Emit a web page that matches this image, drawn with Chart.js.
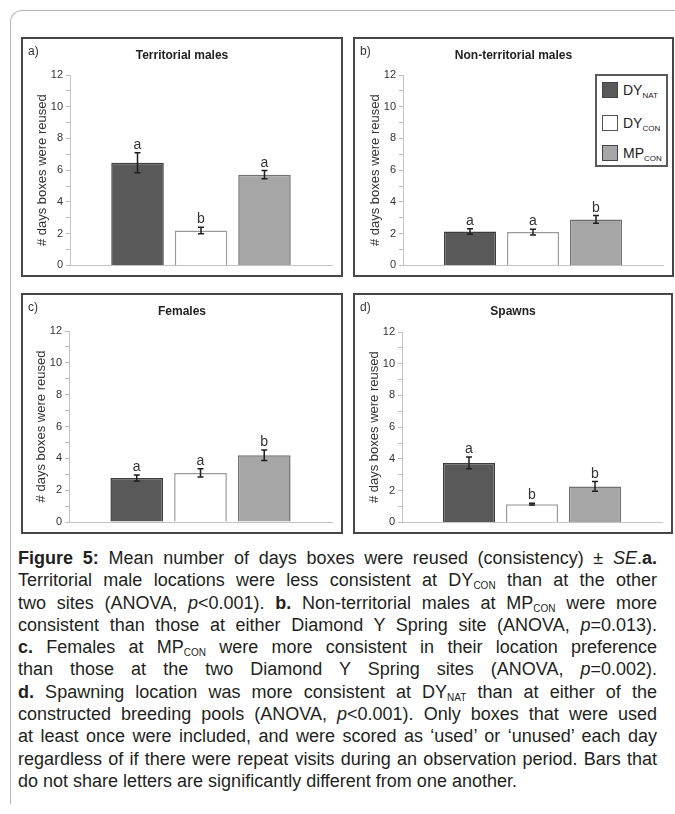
<!DOCTYPE html>
<html>
<head>
<meta charset="utf-8">
<script src="https://cdn.jsdelivr.net/npm/chart.js@4.4.1/dist/chart.umd.min.js"></script>
<style>
  html, body { margin: 0; padding: 0; background: #fff; }
  body { width: 675px; height: 814px; position: relative; overflow: hidden; font-family: "Liberation Sans", Arial, sans-serif; }
  #frame { position: absolute; left: 10px; top: 10px; width: 700px; height: 793px; border-top: 1px solid #b5b5b5; border-left: 1px solid #b5b5b5; border-top-left-radius: 12px; }
  .panel { position: absolute; border: 2px solid #474747; box-sizing: border-box; background: #fff; }
  .panel .inner { position: absolute; left: 0; top: 0; right: 0; bottom: 0; }
  #legend { position: absolute; left: 595px; top: 74px; width: 73px; height: 93px; box-sizing: border-box; border: 2px solid #5a5a5a; background: #fff; }
  .lg { position: absolute; left: 5px; height: 17px; font-size: 14px; color: #222; line-height: 17px; white-space: nowrap; }
  .lg .sw { display: inline-block; width: 16px; height: 16px; box-sizing: border-box; border: 1.5px solid #444; vertical-align: top; margin-right: 5px; }
  .lg sub { font-size: 8px; vertical-align: -3px; line-height: 0; }
  #caption { position: absolute; left: 18px; top: 547px; width: 639px; font-family: "Liberation Sans", Arial, sans-serif; font-size: 18px; color: #231f20; }
  #caption .ln { width: 639px; height: 22.3px; line-height: 22.3px; white-space: nowrap; text-align: justify; text-align-last: justify; }
  #caption .ln.last { text-align-last: left; }
  #caption sub { font-size: 10px; vertical-align: -3px; line-height: 0; }
</style>
</head>
<body>
<div id="frame"></div>

<div class="panel" style="left:21px; top:37px; width:322px; height:240px;"><div class="inner"><canvas id="cA"></canvas></div></div>
<div class="panel" style="left:353px; top:37px; width:321px; height:240px;"><div class="inner"><canvas id="cB"></canvas></div></div>
<div class="panel" style="left:21px; top:293px; width:322px; height:241px;"><div class="inner"><canvas id="cC"></canvas></div></div>
<div class="panel" style="left:353px; top:293px; width:320px; height:241px;"><div class="inner"><canvas id="cD"></canvas></div></div>

<div id="legend"></div>

<div id="caption">
  <div class="ln"><b>Figure 5:</b> Mean number of days boxes were reused (consistency) ± <i>SE</i>.<b>a.</b></div>
  <div class="ln">Territorial male locations were less consistent at DY<sub>CON</sub> than at the other</div>
  <div class="ln">two sites (ANOVA, <i>p</i>&lt;0.001). <b>b.</b> Non-territorial males at MP<sub>CON</sub> were more</div>
  <div class="ln">consistent than those at either Diamond Y Spring site (ANOVA, <i>p</i>=0.013).</div>
  <div class="ln"><b>c.</b> Females at MP<sub>CON</sub> were more consistent in their location preference</div>
  <div class="ln">than those at the two Diamond Y Spring sites (ANOVA, <i>p</i>=0.002).</div>
  <div class="ln"><b>d.</b> Spawning location was more consistent at DY<sub>NAT</sub> than at either of the</div>
  <div class="ln">constructed breeding pools (ANOVA, <i>p</i>&lt;0.001). Only boxes that were used</div>
  <div class="ln">at least once were included, and were scored as ‘used’ or ‘unused’ each day</div>
  <div class="ln">regardless of if there were repeat visits during an observation period. Bars that</div>
  <div class="ln last">do not share letters are significantly different from one another.</div>
</div>

<script>
// ---- data ----
const groups = ['DY_NAT', 'DY_CON', 'MP_CON'];
const groupBase = ['DY', 'DY', 'MP'];
const groupSub = ['NAT', 'CON', 'CON'];
const categories = [''];
const yTickLabels = ['0', '2', '4', '6', '8', '10', '12'];
const yAxisTitle = '# days boxes were reused';

const panelLabels = ['a)', 'b)', 'c)', 'd)'];
const panelTitles = ['Territorial males', 'Non-territorial males', 'Females', 'Spawns'];

const territorialMean = [6.47, 2.20, 5.72];
const territorialSE = [0.63, 0.20, 0.26];
const territorialLetters = ['a', 'b', 'a'];

const nonTerritorialMean = [2.14, 2.10, 2.90];
const nonTerritorialSE = [0.17, 0.18, 0.24];
const nonTerritorialLetters = ['a', 'a', 'b'];

const femalesMean = [2.77, 3.08, 4.20];
const femalesSE = [0.19, 0.26, 0.33];
const femalesLetters = ['a', 'a', 'b'];

const spawnsMean = [3.75, 1.15, 2.27];
const spawnsSE = [0.37, 0.05, 0.30];
const spawnsLetters = ['a', 'b', 'b'];

// ---- styles ----
const fills = ['#595959', '#ffffff', '#a6a6a6'];
const borders = ['#3c3c3c', '#9a9a9a', '#707070'];

// ---- legend (HTML, with subscripts) ----
const legendTops = [6, 39, 69];
const legendEl = document.getElementById('legend');
groups.forEach((g, i) => {
  const d = document.createElement('div');
  d.className = 'lg';
  d.style.top = legendTops[i] + 'px';
  d.innerHTML = '<span class="sw" style="background:' + fills[i] + ';border-color:' + (i === 1 ? '#555' : '#444') + '"></span>' + groupBase[i] + '<sub>' + groupSub[i] + '</sub>';
  legendEl.appendChild(d);
});

const panelPlugin = {
  id: 'panelPlugin',
  afterDatasetsDraw(chart) {
    const o = chart.options.plugins.panelPlugin;
    const ctx = chart.ctx;
    const y = chart.scales.y;
    ctx.save();
    chart.data.datasets.forEach((ds, i) => {
      const el = chart.getDatasetMeta(i).data[0];
      const m = ds.data[0];
      const se = ds.se;
      const yTop = y.getPixelForValue(m + se);
      const yBot = y.getPixelForValue(m - se);
      ctx.strokeStyle = '#1e1e1e';
      ctx.lineWidth = 1.5;
      ctx.beginPath();
      ctx.moveTo(el.x, yTop); ctx.lineTo(el.x, yBot);
      ctx.moveTo(el.x - 3, yTop); ctx.lineTo(el.x + 3, yTop);
      ctx.moveTo(el.x - 3, yBot); ctx.lineTo(el.x + 3, yBot);
      ctx.stroke();
      ctx.fillStyle = '#333';
      ctx.font = '14px "Liberation Sans", Arial, sans-serif';
      ctx.textAlign = 'center';
      ctx.textBaseline = 'alphabetic';
      ctx.fillText(ds.letter, el.x, yTop - 4);
    });
    ctx.fillStyle = '#333';
    ctx.textBaseline = 'middle';
    ctx.textAlign = 'left';
    ctx.font = '12px "Liberation Sans", Arial, sans-serif';
    ctx.fillText(o.label, 5, 13);
    ctx.textAlign = 'center';
    ctx.font = 'bold 12px "Liberation Sans", Arial, sans-serif';
    ctx.fillStyle = '#222';
    ctx.fillText(o.title, chart.width / 2, 17);
    ctx.restore();
  }
};

function makePanel(id, idx, means, ses, letters, pad) {
  const datasets = groups.map((g, i) => ({
    label: g,
    data: [means[i]],
    se: ses[i],
    letter: letters[i],
    backgroundColor: fills[i],
    borderColor: borders[i],
    borderWidth: 1.5,
    borderSkipped: 'start',
    categoryPercentage: 0.727,
    barPercentage: 0.827
  }));
  return new Chart(document.getElementById(id), {
    type: 'bar',
    data: { labels: categories, datasets },
    plugins: [panelPlugin],
    options: {
      responsive: true,
      maintainAspectRatio: false,
      devicePixelRatio: 1,
      animation: false,
      layout: { padding: pad },
      plugins: {
        legend: { display: false },
        tooltip: { enabled: false },
        title: { display: false },
        panelPlugin: { label: panelLabels[idx], title: panelTitles[idx] }
      },
      scales: {
        x: {
          display: true,
          grid: { display: false },
          ticks: { display: false },
          border: { display: true, color: '#c4c4c4', width: 1 },
          afterFit(s) { s.height = 0; }
        },
        y: {
          min: 0,
          max: 12,
          ticks: {
            stepSize: 1,
            autoSkip: false,
            padding: 3,
            color: '#333',
            font: { size: 11, family: '"Liberation Sans", Arial, sans-serif' },
            callback: (v) => (v % 2 === 0 ? yTickLabels[v / 2] : '')
          },
          grid: { display: true, drawOnChartArea: false, drawTicks: true, tickLength: 4, color: '#bdbdbd' },
          border: { display: true, color: '#c4c4c4', width: 1 },
          title: {
            display: true,
            text: yAxisTitle,
            color: '#333',
            padding: 0,
            font: { size: 13, family: '"Liberation Sans", Arial, sans-serif' }
          },
          afterFit(s) { s.width = 35; }
        }
      }
    }
  });
}

makePanel('cA', 0, territorialMean, territorialSE, territorialLetters, { top: 36, right: 9, bottom: 9, left: 12 });
makePanel('cB', 1, nonTerritorialMean, nonTerritorialSE, nonTerritorialLetters, { top: 36, right: 9, bottom: 9, left: 13 });
makePanel('cC', 2, femalesMean, femalesSE, femalesLetters, { top: 36, right: 9, bottom: 10, left: 11 });
makePanel('cD', 3, spawnsMean, spawnsSE, spawnsLetters, { top: 37, right: 9, bottom: 9, left: 12 });
</script>
</body>
</html>
